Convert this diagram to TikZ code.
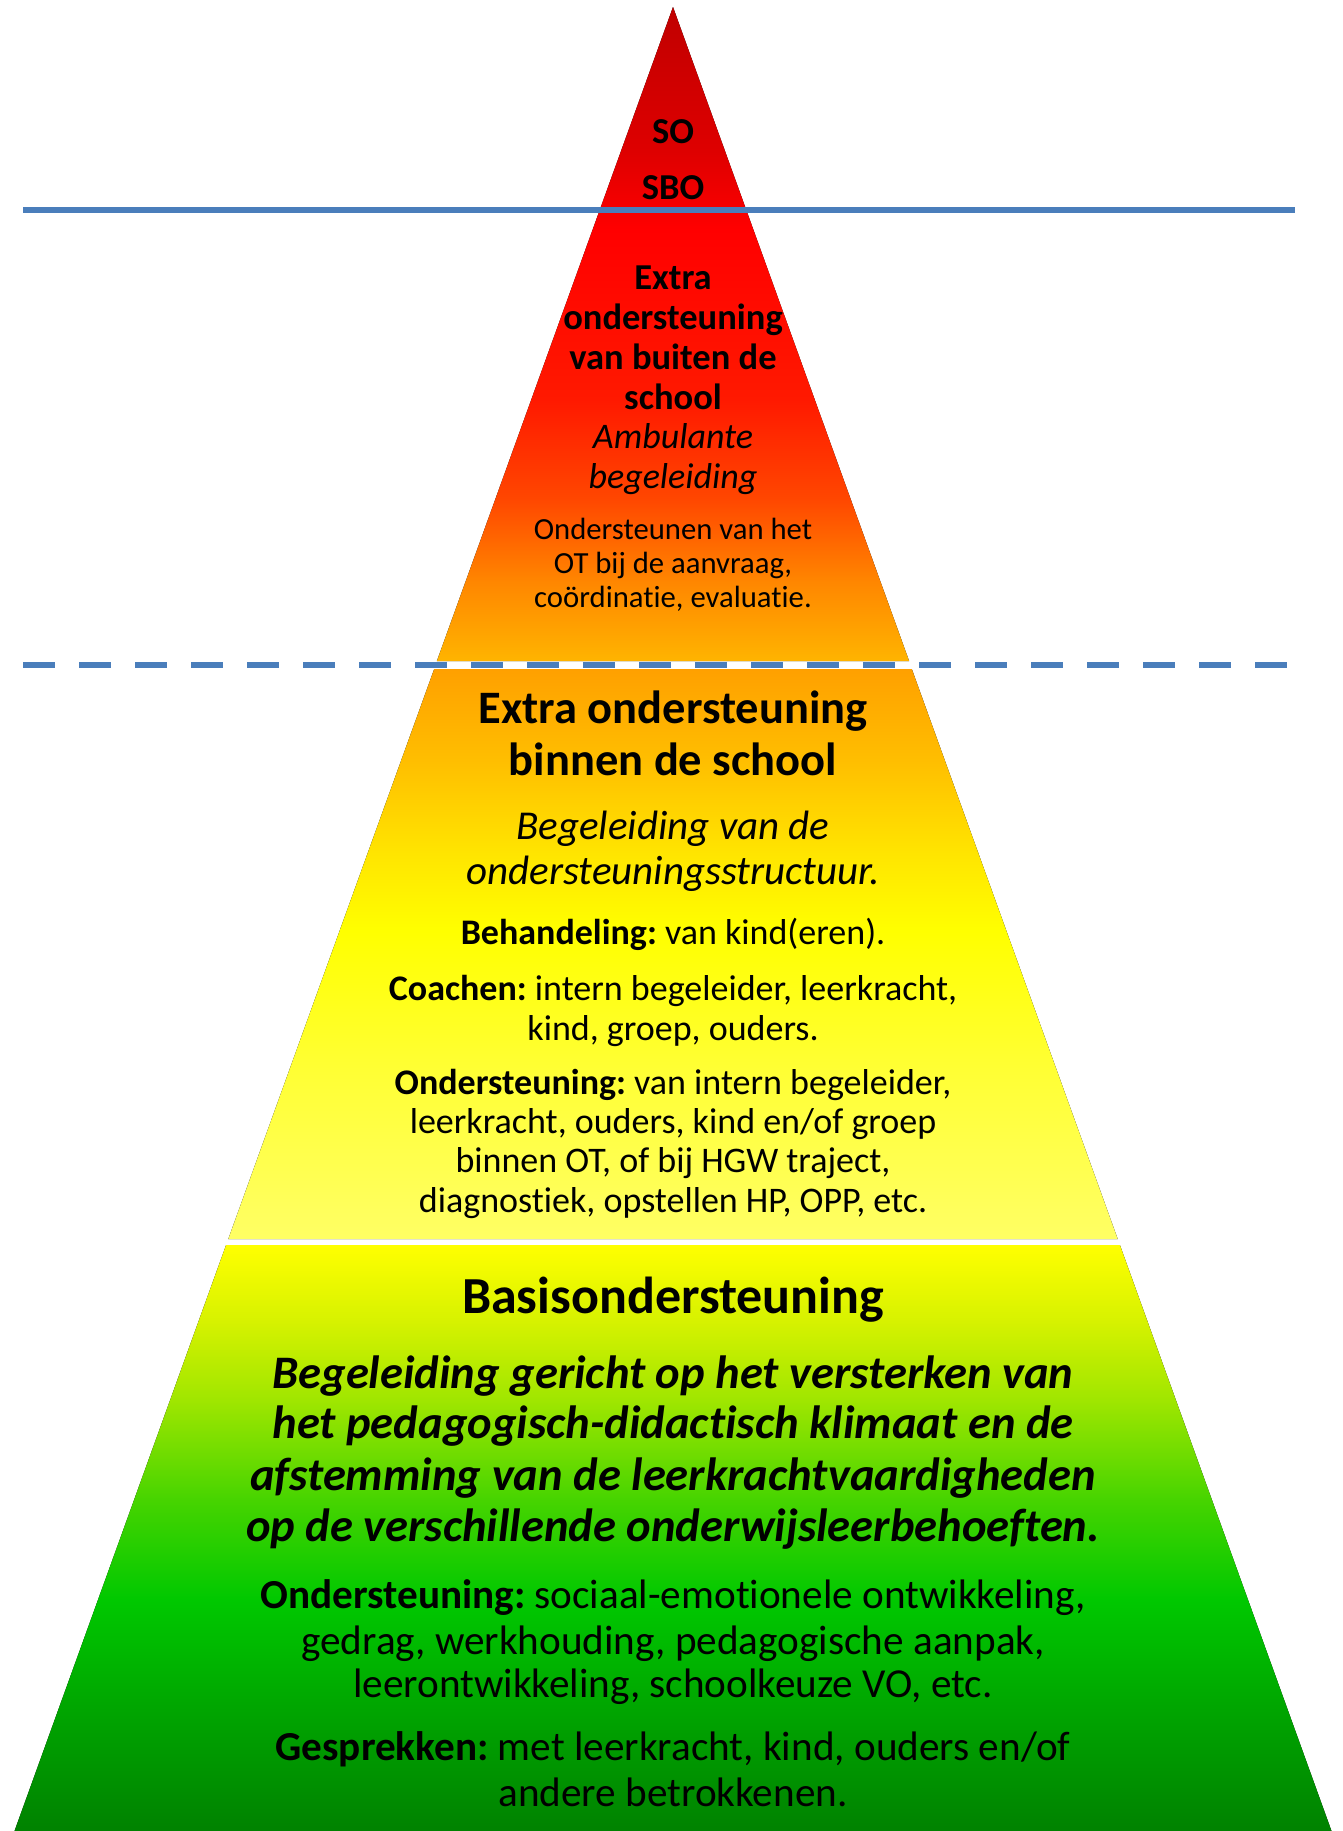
\documentclass[tikz,border=0pt]{standalone}
\usepackage{fontspec}
\setmainfont{Carlito}[Ligatures=NoCommon]
\frenchspacing
\newcommand\setfs[1]{\fontsize{#1}{#1}\selectfont}
% top triangle colours
\definecolor{ta}{RGB}{192,0,0}
\definecolor{tb}{RGB}{222,0,0}
\definecolor{tc}{RGB}{255,0,0}
\definecolor{td}{RGB}{255,25,0}
\definecolor{te}{RGB}{255,70,0}
\definecolor{tf}{RGB}{255,135,0}
\definecolor{tg}{RGB}{255,180,0}
% middle colours
\definecolor{ma}{RGB}{255,160,0}
\definecolor{mb}{RGB}{255,190,0}
\definecolor{mc}{RGB}{255,228,0}
\definecolor{md}{RGB}{255,255,0}
\definecolor{me}{RGB}{255,255,50}
\definecolor{mf}{RGB}{255,255,100}
% bottom colours
\definecolor{ba}{RGB}{255,255,0}
\definecolor{bb}{RGB}{215,242,0}
\definecolor{bc}{RGB}{160,230,0}
\definecolor{bd}{RGB}{70,212,0}
\definecolor{be}{RGB}{0,200,0}
\definecolor{bf}{RGB}{0,168,0}
\definecolor{bg}{RGB}{0,130,0}
\definecolor{lineblue}{RGB}{74,126,187}
\pgfdeclareverticalshading{topshade}{100bp}{color(0bp)=(tg); color(25bp)=(tg); color(31bp)=(tf); color(37.5bp)=(te); color(45bp)=(td); color(58bp)=(tc); color(64bp)=(tb); color(75bp)=(ta); color(100bp)=(ta)}
\pgfdeclareverticalshading{midshade}{100bp}{color(0bp)=(mf); color(25bp)=(mf); color(40.5bp)=(me); color(52bp)=(md); color(59bp)=(mc); color(67bp)=(mb); color(75bp)=(ma); color(100bp)=(ma)}
\pgfdeclareverticalshading{botshade}{100bp}{color(0bp)=(bg); color(25bp)=(bg); color(36.2bp)=(bf); color(44.7bp)=(be); color(53.2bp)=(bd); color(61.8bp)=(bc); color(68.6bp)=(bb); color(75bp)=(ba); color(100bp)=(ba)}
\begin{document}
\begin{tikzpicture}[x=1pt,y=-1pt,
  txt/.style={inner sep=0pt, anchor=base, align=center, text=black},
  tb/.style={txt, font=\setfs{36.5}\bfseries},
  ti/.style={txt, font=\setfs{36}\itshape},
  tr/.style={txt, font=\setfs{30.7}},
  mh/.style={txt, font=\setfs{46.5}\bfseries},
  mi/.style={txt, font=\setfs{41}\itshape},
  mr/.style={txt, font=\setfs{36}},
  bh/.style={txt, font=\setfs{52}\bfseries},
  bi/.style={txt, font=\setfs{46.6}\bfseries\itshape},
  br/.style={txt, font=\setfs{41.2}},
  divider/.style={draw=lineblue, line width=6.5pt}]
\useasboundingbox (0,0) rectangle (1343,1831);
% pyramid layers (apex 673,7; slope 0.361)
\fill[shading=topshade] (673,7) -- (909.1,661) -- (436.9,661) -- cycle;
\fill[shading=midshade] (434.2,669) -- (911.8,669) -- (1117.7,1239) -- (228.3,1239) -- cycle;
\fill[shading=botshade] (226.1,1245) -- (1119.9,1245) -- (1331.5,1831) -- (14.5,1831) -- cycle;
% divider lines
\coordinate (s1) at (23,210);
\coordinate (s2) at (1295,210);
\coordinate (d1) at (23,665);
\coordinate (d2) at (1292,665);
\draw[divider] (s1) -- (s2);
\draw[divider, dash pattern=on 32pt off 24pt] (d1) -- (d2);
% top texts
\node[tb] (so) at (673,143) {SO};
\node[tb] (sbo) at (673,199) {SBO};
\node[tb] (t1) at (673,289) {Extra};
\node[tb] (t2) at (673,329) {ondersteuning};
\node[tb] (t3) at (673,369) {van buiten de};
\node[tb] (t4) at (673,409) {school};
\node[ti] (t5) at (673,448) {Ambulante};
\node[ti] (t6) at (673,488) {begeleiding};
\node[tr] (t7) at (673,539) {Ondersteunen van het};
\node[tr] (t8) at (673,573) {OT bij de aanvraag,};
\node[tr] (t9) at (673,607) {coördinatie, evaluatie.};
% middle texts
\node[mh] (m1) at (673,723) {Extra ondersteuning};
\node[mh] (m2) at (673,775) {binnen de school};
\node[mi] (m3) at (673,839) {Begeleiding van de};
\node[mi] (m4) at (673,884) {ondersteuningsstructuur.};
\node[mr] (m5) at (673,944) {\textbf{Behandeling:} van kind(eren).};
\node[mr] (m6) at (673,1000) {\textbf{Coachen:} intern begeleider, leerkracht,};
\node[mr] (m7) at (673,1040) {kind, groep, ouders.};
\node[mr] (m8) at (673,1094) {\textbf{Ondersteuning:} van intern begeleider,};
\node[mr] (m9) at (673,1133) {leerkracht, ouders, kind en/of groep};
\node[mr] (m10) at (673,1172) {binnen OT, of bij HGW traject,};
\node[mr] (m11) at (673,1212) {diagnostiek, opstellen HP, OPP, etc.};
% bottom texts
\node[bh] (b1) at (673,1313) {Basisondersteuning};
\node[bi] (b2) at (673,1388) {Begeleiding gericht op het versterken van};
\node[bi] (b3) at (673,1438) {het pedagogisch-didactisch klimaat en de};
\node[bi] (b4) at (673,1490) {afstemming van de leerkrachtvaardigheden};
\node[bi] (b5) at (673,1541) {op de verschillende onderwijsleerbehoeften.};
\node[br] (b6) at (673,1608) {\textbf{Ondersteuning:} sociaal-emotionele ontwikkeling,};
\node[br] (b7) at (673,1654) {gedrag, werkhouding, pedagogische aanpak,};
\node[br] (b8) at (673,1697) {leerontwikkeling, schoolkeuze VO, etc.};
\node[br] (b9) at (673,1760) {\textbf{Gesprekken:} met leerkracht, kind, ouders en/of};
\node[br] (b10) at (673,1806) {andere betrokkenen.};
\end{tikzpicture}
\end{document}
